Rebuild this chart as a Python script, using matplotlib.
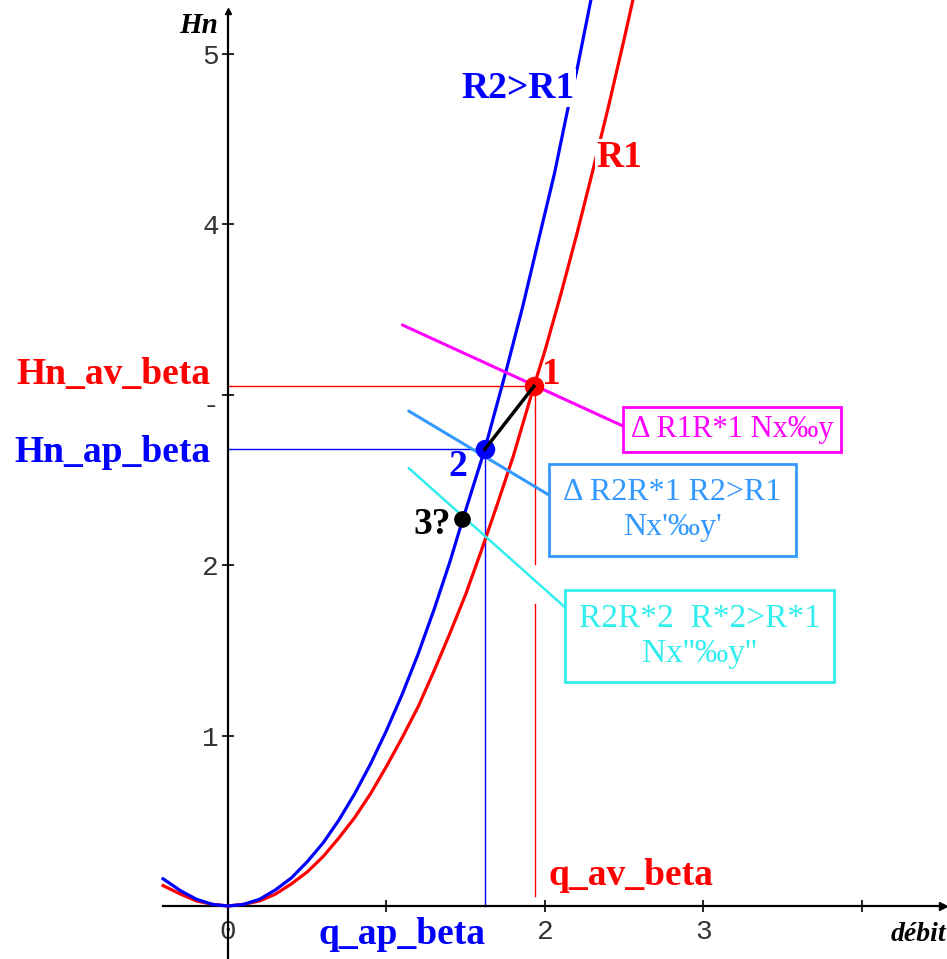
import matplotlib.pyplot as plt
import matplotlib.transforms as mtransforms

# courbes R1 et R2
r1_x = [-0.41, -0.3, -0.2, -0.1, 0.0, 0.1, 0.2, 0.3, 0.4, 0.5, 0.6, 0.7, 0.8, 0.9, 1.0, 1.1, 1.2, 1.3,
        1.4, 1.5, 1.6, 1.7, 1.8, 1.93, 2.0, 2.1, 2.2, 2.3, 2.4, 2.5, 2.56]
r1_y = [0.12, 0.07, 0.03, 0.01, 0.0, 0.01, 0.03, 0.07, 0.13, 0.2, 0.29, 0.4, 0.52, 0.66, 0.82, 0.99, 1.17, 1.38,
        1.6, 1.83, 2.09, 2.36, 2.64, 3.05, 3.26, 3.59, 3.94, 4.31, 4.69, 5.09, 5.34]
r2_x = [-0.41, -0.3, -0.2, -0.1, 0.0, 0.1, 0.2, 0.3, 0.4, 0.5, 0.6, 0.7, 0.8, 0.9, 1.0, 1.1, 1.2, 1.3,
        1.4, 1.475, 1.62, 1.76, 1.86, 1.97, 2.06, 2.16, 2.2, 2.29]
r2_y = [0.16, 0.09, 0.04, 0.01, 0.0, 0.01, 0.04, 0.095, 0.165, 0.26, 0.37, 0.505, 0.66, 0.835, 1.03, 1.245, 1.48, 1.74,
        2.02, 2.25, 2.68, 3.16, 3.52, 3.95, 4.3, 4.75, 4.9, 5.32]

# points de fonctionnement
q_av, hn_av = 1.93, 3.05
q_ap, hn_ap = 1.62, 2.68
q_3, hn_3 = 1.475, 2.27

xticks = [0, 1, 2, 3, 4]
xtick_labels = ['0', '', '2', '3', '']
yticks = [1, 2, 3, 4, 5]
ytick_labels = ['1', '2', '-', '4', '5']

SERIF = 'Liberation Serif'
DBLUE = '#3399FF'
CYAN = '#33EEEE'

fig = plt.figure(figsize=(9.47, 9.59), dpi=100)
ax = fig.add_axes([0, 0, 1, 1])
ax.set_xlim(-1.4385, 4.5363)
ax.set_ylim(-0.311, 5.317)

for s in ['top', 'right']:
    ax.spines[s].set_visible(False)
ax.spines['left'].set_position(('data', 0))
ax.spines['bottom'].set_position(('data', 0))
ax.spines['left'].set_bounds(-0.311, 5.25)
ax.spines['bottom'].set_bounds(-0.41, 4.51)
ax.spines['left'].set_linewidth(1.6)
ax.spines['bottom'].set_linewidth(1.6)
ax.plot([4.51], [0], marker='>', color='k', ms=6, clip_on=False)
ax.plot([0], [5.25], marker='^', color='k', ms=5, clip_on=False)

ax.set_xticks(xticks, xtick_labels)
ax.set_yticks(yticks, ytick_labels)
ax.tick_params(direction='inout', length=9, width=1.2, labelsize=20)
ax.tick_params(axis='x', pad=5)
ax.tick_params(axis='y', pad=2)
for lab in ax.get_xticklabels() + ax.get_yticklabels():
    lab.set_fontfamily('Liberation Mono')
    lab.set_color('#333333')
# le "-" du 3 est un peu plus bas
dash = ax.get_yticklabels()[2]
dash.set_transform(dash.get_transform() + mtransforms.ScaledTranslation(0, -6 / 72, fig.dpi_scale_trans))

# lignes de repère
ax.plot([0, q_av], [hn_av, hn_av], color='red', lw=1)
ax.plot([0, q_ap], [hn_ap, hn_ap], color='blue', lw=1)
ax.plot([q_av + 0.01, q_av + 0.01], [hn_av, 2.01], color='red', lw=1)
ax.plot([q_av + 0.01, q_av + 0.01], [1.77, 0.06], color='red', lw=1)
ax.plot([q_ap, q_ap], [hn_ap, 0], color='blue', lw=1)

# courbes
ax.plot(r1_x, r1_y, color='red', lw=2.3, zorder=3)
ax.plot(r2_x, r2_y, color='blue', lw=2.3, zorder=3)

# points
ax.plot(q_av, hn_av, 'o', color='red', ms=13, zorder=5)
ax.plot(q_ap, hn_ap, 'o', color='blue', ms=13, zorder=5)
ax.plot(q_3, hn_3, 'o', color='black', ms=11, zorder=5)
ax.plot([q_ap, q_av], [hn_ap, hn_av], color='black', lw=2.5, zorder=6)

bold = dict(family=SERIF, fontweight='bold', fontsize=27)
white = dict(facecolor='white', edgecolor='none', pad=1)
ax.text(1.83, 4.8, 'R2>R1', color='blue', ha='center', va='center', bbox=white, zorder=4, **bold)
ax.text(2.47, 4.39, 'R1', color='red', ha='center', va='center', bbox=white, zorder=4, **bold)
ax.text(-0.11, 3.12, 'Hn_av_beta', color='red', ha='right', va='center', **bold)
ax.text(-0.11, 2.66, 'Hn_ap_beta', color='blue', ha='right', va='center', **bold)
ax.text(1.1, -0.17, 'q_ap_beta', color='blue', ha='center', va='center', bbox=white, **bold)
ax.text(2.54, 0.18, 'q_av_beta', color='red', ha='center', va='center', **bold)
ax.text(2.04, 3.12, '1', color='red', ha='center', va='center', zorder=6, **bold)
ax.text(1.45, 2.58, '2', color='blue', ha='center', va='center', zorder=6, **bold)
ax.text(1.29, 2.24, '3?', color='black', ha='center', va='center', zorder=6, **bold)

ax.text(-0.06, 5.17, 'Hn', ha='right', va='center', family=SERIF, fontweight='bold',
        style='italic', fontsize=21)
ax.text(4.53, -0.17, 'débit', ha='right', va='center', family=SERIF, fontweight='bold',
        style='italic', fontsize=20, bbox=white)

# boîtes d'annotation
ax.annotate('Δ R1R*1 Nx‰y', xy=(1.10, 3.41), xytext=(3.18, 2.796),
            ha='center', va='center', color='#FF00FF', family=SERIF, fontsize=22,
            bbox=dict(boxstyle='square,pad=0.25', facecolor='white', edgecolor='#FF00FF', lw=2),
            arrowprops=dict(arrowstyle='-', color='#FF00FF', lw=2.2, relpos=(0, 0.5),
                            shrinkA=0, shrinkB=0))
ax.annotate('Δ R2R*1 R2>R1\nNx\'‰y\'', xy=(1.14, 2.905), xytext=(2.804, 2.324),
            ha='center', va='center', multialignment='center', color=DBLUE,
            family=SERIF, fontsize=23, linespacing=1.25,
            bbox=dict(boxstyle='square,pad=0.45', facecolor='white', edgecolor=DBLUE, lw=2),
            arrowprops=dict(arrowstyle='-', color=DBLUE, lw=2.2, relpos=(0, 0.6),
                            shrinkA=0, shrinkB=0))
ax.annotate('R2R*2  R*2>R*1\nNx\'\'‰y\'\'', xy=(1.14, 2.57), xytext=(2.975, 1.585),
            ha='center', va='center', multialignment='center', color=CYAN,
            family=SERIF, fontsize=24, linespacing=1.2,
            bbox=dict(boxstyle='square,pad=0.4', facecolor='white', edgecolor=CYAN, lw=2),
            arrowprops=dict(arrowstyle='-', color=CYAN, lw=1.8, relpos=(0, 0.75),
                            shrinkA=0, shrinkB=0))

plt.savefig('out.png', dpi=100)
